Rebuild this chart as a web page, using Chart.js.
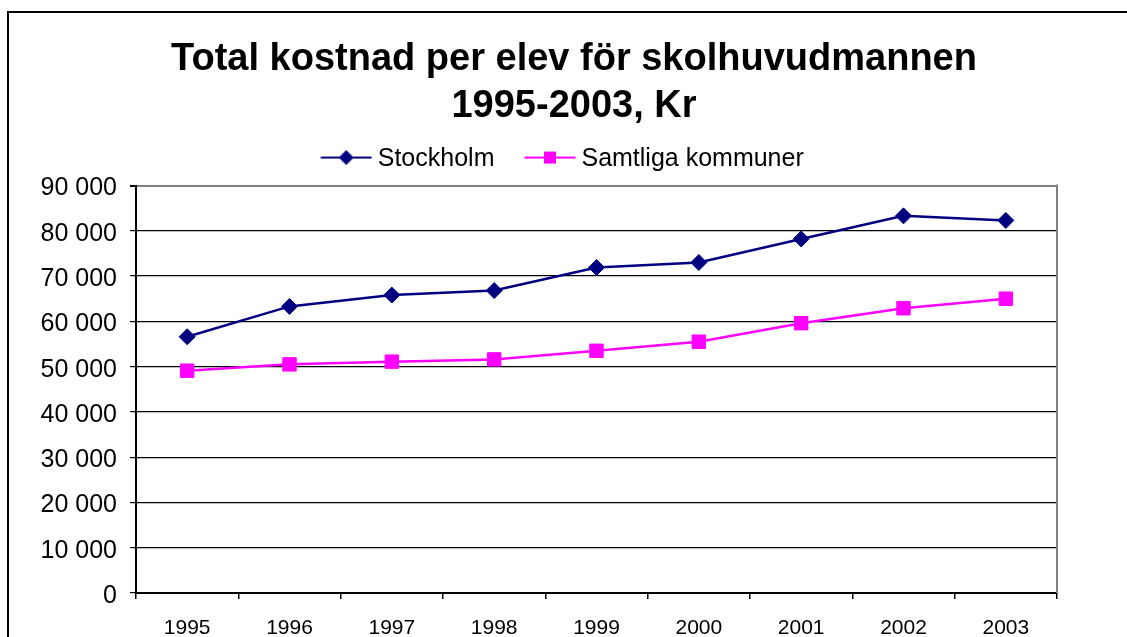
<!DOCTYPE html>
<html>
<head>
<meta charset="utf-8">
<script src="https://cdn.jsdelivr.net/npm/chart.js@4/dist/chart.umd.min.js"></script>
<style>
  html, body { margin: 0; padding: 0; background: #fff; overflow: hidden; }
  #wrap { position: relative; width: 1127px; height: 637px; }
  #frame { position: absolute; left: 7px; top: 11px; width: 1200px; height: 700px; border: 2px solid #000; box-sizing: border-box; }
  #c { position: absolute; left: 0; top: 0; }
</style>
</head>
<body>
<div id="wrap">
  <div id="frame"></div>
  <canvas id="c" width="1127" height="637"></canvas>
</div>
<script>
const titleLines = ['Total kostnad per elev för skolhuvudmannen', '1995-2003, Kr'];
const categories = ['1995', '1996', '1997', '1998', '1999', '2000', '2001', '2002', '2003'];
const seriesNames = ['Stockholm', 'Samtliga kommuner'];
const stockholm = [56600, 63300, 65800, 66800, 71900, 73000, 78200, 83300, 82300];
const samtliga = [49100, 50500, 51100, 51600, 53500, 55500, 59600, 62900, 65000];
const yMin = 0, yMax = 90000, yStep = 10000;

const NAVY = '#000080', MAGENTA = '#FF00FF';
const FONT = "'Liberation Sans', Arial, sans-serif";

function makeLegendImg(kind, color) {
  const c = document.createElement('canvas');
  c.width = 78; c.height = 24;
  const g = c.getContext('2d');
  const a = 26.5, ly = 10;
  g.strokeStyle = color; g.lineWidth = 2;
  g.beginPath(); g.moveTo(a, ly); g.lineTo(a + 51, ly); g.stroke();
  const cx = a + 25.5;
  g.fillStyle = color;
  if (kind === 'diamond') {
    g.beginPath(); g.moveTo(cx - 7.5, ly); g.lineTo(cx, ly - 7.5); g.lineTo(cx + 7.5, ly); g.lineTo(cx, ly + 7.5); g.closePath(); g.fill();
  } else {
    g.fillRect(cx - 6, ly - 6, 12, 12);
  }
  return c;
}
const legendImgs = [makeLegendImg('diamond', NAVY), makeLegendImg('square', MAGENTA)];

const fmt = v => String(v).replace(/\B(?=(\d{3})+(?!\d))/g, ' ');

const framePlugin = {
  id: 'framePlugin',
  afterLayout(chart) {
    const t = chart.titleBlock, l = chart.legend;
    if (t) { t.left += 45.5; t.right += 45.5; }
    if (l) { l.left += 24; l.right += 24; l.top -= 3.5; l.bottom -= 3.5; }
  },
  beforeDatasetsDraw(chart) {
    const {ctx, chartArea} = chart;
    ctx.save();
    ctx.strokeStyle = '#808080';
    ctx.lineWidth = 2;
    ctx.beginPath();
    ctx.moveTo(chartArea.right, chartArea.top - 1);
    ctx.lineTo(chartArea.right, chartArea.bottom);
    ctx.stroke();
    ctx.restore();
  }
};

new Chart(document.getElementById('c'), {
  type: 'line',
  data: {
    labels: categories,
    datasets: [
      {
        label: seriesNames[0], data: stockholm,
        borderColor: NAVY, backgroundColor: NAVY, borderWidth: 2.5,
        pointStyle: 'rectRot', pointRadius: 8, pointBorderWidth: 1,
        pointBackgroundColor: NAVY, pointBorderColor: NAVY, tension: 0
      },
      {
        label: seriesNames[1], data: samtliga,
        borderColor: MAGENTA, backgroundColor: MAGENTA, borderWidth: 2.5,
        pointStyle: 'rect', pointRadius: 9.5, pointBorderWidth: 1,
        pointBackgroundColor: MAGENTA, pointBorderColor: MAGENTA, tension: 0
      }
    ]
  },
  options: {
    responsive: false,
    animation: false,
    devicePixelRatio: 1,
    layout: { padding: { left: 0, right: 70, top: 0, bottom: 0 } },
    plugins: {
      tooltip: { enabled: false },
      title: {
        display: true,
        text: titleLines,
        color: '#000',
        font: { family: FONT, size: 38, weight: 'bold', lineHeight: 1.24 },
        padding: { top: 36, bottom: 9.8 }
      },
      legend: {
        display: true,
        position: 'top',
        labels: {
          color: '#000',
          font: { family: FONT, size: 25 },
          usePointStyle: true,
          pointStyleWidth: 64,
          padding: 10.5,
          generateLabels(chart) {
            return chart.data.datasets.map((ds, i) => ({
              text: ds.label,
              pointStyle: legendImgs[i],
              fillStyle: ds.backgroundColor,
              strokeStyle: ds.borderColor,
              lineWidth: 0,
              hidden: false,
              datasetIndex: i,
              fontColor: '#000'
            }));
          }
        }
      }
    },
    scales: {
      x: {
        type: 'category',
        offset: true,
        grid: { offset: true, drawOnChartArea: false, drawTicks: true, tickLength: 6, color: '#000', lineWidth: 1.5 },
        border: { display: true, color: '#000', width: 2 },
        ticks: { color: '#000', font: { family: FONT, size: 21 }, padding: 17, maxRotation: 0, autoSkip: false },
        afterFit(scale) { scale.height = 44; }
      },
      y: {
        min: yMin, max: yMax,
        grid: {
          color: ctx => (ctx.tick && ctx.tick.value === yMax) ? '#808080' : '#000',
          lineWidth: ctx => (ctx.tick && ctx.tick.value === yMax) ? 2 : 1.2,
          tickColor: '#000', tickLength: 6, drawTicks: true
        },
        border: { display: true, color: '#000', width: 2 },
        ticks: {
          stepSize: yStep, color: '#000', padding: 13, labelOffset: 3,
          font: { family: FONT, size: 25 },
          callback: v => fmt(v)
        },
        afterFit(scale) { scale.width = 136; }
      }
    }
  },
  plugins: [framePlugin]
});
</script>
</body>
</html>
